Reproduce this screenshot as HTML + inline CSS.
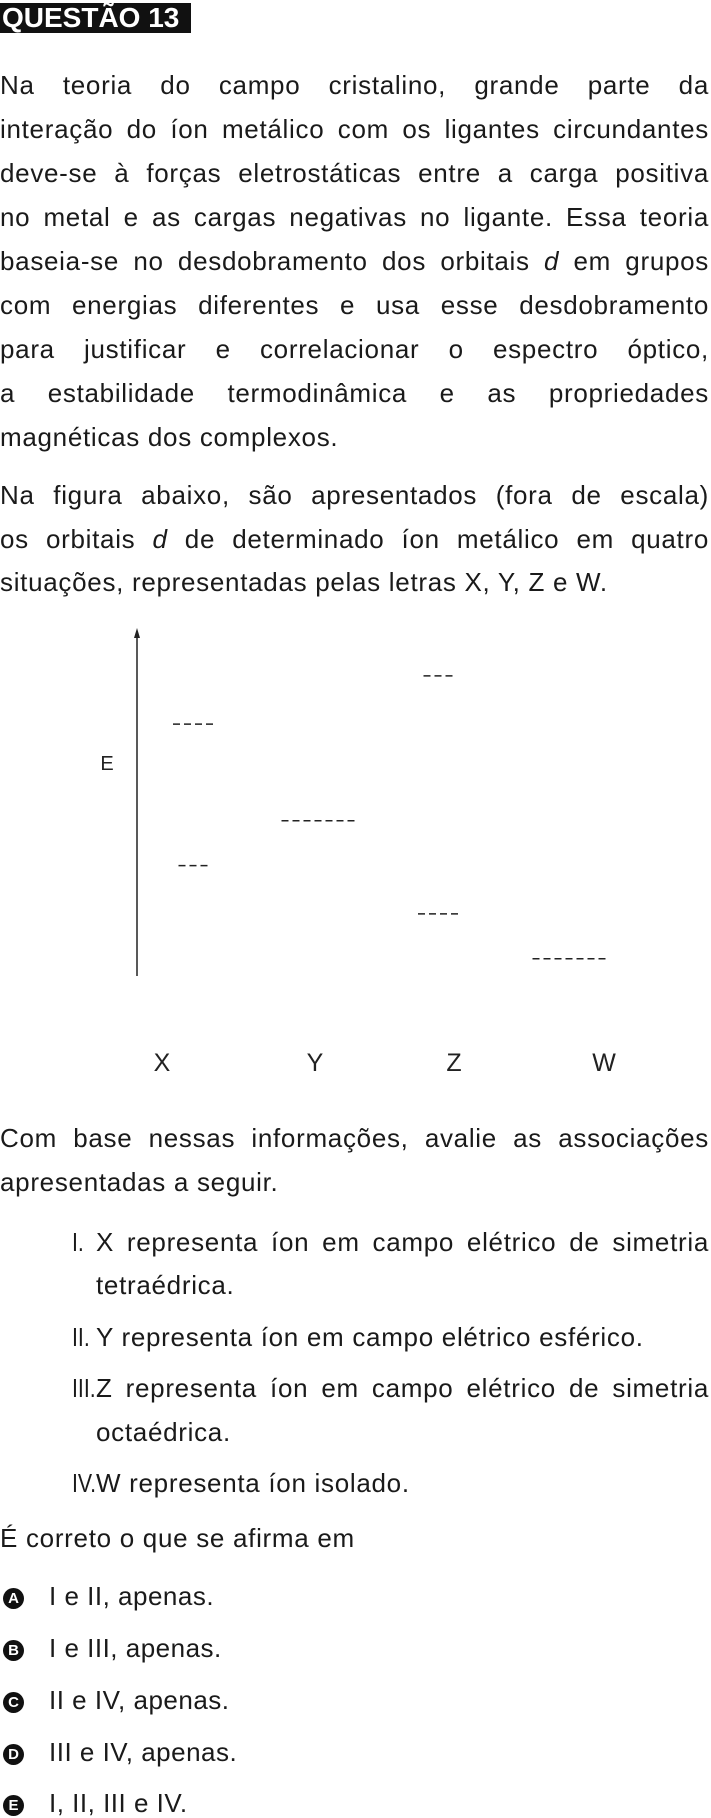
<!DOCTYPE html>
<html><head><meta charset="utf-8">
<style>
html,body{margin:0;padding:0;background:#fff;}
body{width:711px;height:1817px;position:relative;overflow:hidden;font-family:"Liberation Sans",Arial,sans-serif;color:#1a1a1a;}
.hdr{position:absolute;left:0;top:3px;width:191px;height:30px;background:#111;color:#fff;font-weight:bold;font-size:28px;line-height:30px;padding-left:2px;box-sizing:border-box;letter-spacing:0px;overflow:hidden;white-space:nowrap;}
.ln{position:absolute;left:0;width:709px;font-size:26px;letter-spacing:0.7px;line-height:30px;height:30px;white-space:nowrap;}
.j{text-align:justify;text-align-last:justify;white-space:normal;}
.num{position:absolute;left:72px;font-size:26px;line-height:30px;transform:scaleX(0.82);transform-origin:left center;}
.opt{position:absolute;left:3px;width:21px;height:21px;border-radius:50%;background:#111;color:#fff;font-weight:bold;font-size:15px;line-height:21px;text-align:center;}
.ot{position:absolute;left:49px;font-size:26px;letter-spacing:0.5px;line-height:30px;}
</style></head><body>
<div class="hdr">QUESTÃO 13</div>

<div class="ln j" style="top:70px">Na teoria do campo cristalino, grande parte da</div>
<div class="ln j" style="top:114px">interação do íon metálico com os ligantes circundantes</div>
<div class="ln j" style="top:158px">deve-se à forças eletrostáticas entre a carga positiva</div>
<div class="ln j" style="top:202px">no metal e as cargas negativas no ligante. Essa teoria</div>
<div class="ln j" style="top:246px">baseia-se no desdobramento dos orbitais <i>d</i> em grupos</div>
<div class="ln j" style="top:290px">com energias diferentes e usa esse desdobramento</div>
<div class="ln j" style="top:334px">para justificar e correlacionar o espectro óptico,</div>
<div class="ln j" style="top:378px">a estabilidade termodinâmica e as propriedades</div>
<div class="ln" style="top:422px">magnéticas dos complexos.</div>

<div class="ln j" style="top:480px">Na figura abaixo, são apresentados (fora de escala)</div>
<div class="ln j" style="top:524px">os orbitais <i>d</i> de determinado íon metálico em quatro</div>
<div class="ln" style="top:567px">situações, representadas pelas letras X, Y, Z e W.</div>

<svg id="fig" width="711" height="1817" style="position:absolute;left:0;top:0">
  <line x1="137" y1="976" x2="137" y2="636" stroke="#222" stroke-width="1.5"/>
  <polygon points="137,628 134,638 140,638" fill="#222"/>
  <text x="107" y="770" font-size="20" font-family="Liberation Sans, sans-serif" text-anchor="middle" fill="#222">E</text>
</svg>

<div class="ln j" style="top:1123px">Com base nessas informações, avalie as associações</div>
<div class="ln" style="top:1167px">apresentadas a seguir.</div>

<div class="num" style="top:1227px">I.</div>
<div class="ln j" style="top:1227px;left:96px;width:613px">X representa íon em campo elétrico de simetria</div>
<div class="ln" style="top:1270px;left:96px">tetraédrica.</div>
<div class="num" style="top:1322px">II.</div>
<div class="ln" style="top:1322px;left:96px">Y representa íon em campo elétrico esférico.</div>
<div class="num" style="top:1373px">III.</div>
<div class="ln j" style="top:1373px;left:96px;width:613px">Z representa íon em campo elétrico de simetria</div>
<div class="ln" style="top:1417px;left:96px">octaédrica.</div>
<div class="num" style="top:1468px">IV.</div>
<div class="ln" style="top:1468px;left:96px">W representa íon isolado.</div>

<div class="ln" style="top:1523px">É correto o que se afirma em</div>

<div class="opt" style="top:1588px">A</div>
<div class="ot" style="top:1581px">I e II, apenas.</div>
<div class="opt" style="top:1640px">B</div>
<div class="ot" style="top:1633px">I e III, apenas.</div>
<div class="opt" style="top:1692px">C</div>
<div class="ot" style="top:1685px">II e IV, apenas.</div>
<div class="opt" style="top:1744px">D</div>
<div class="ot" style="top:1737px">III e IV, apenas.</div>
<div class="opt" style="top:1795px">E</div>
<div class="ot" style="top:1788px">I, II, III e IV.</div>

<script>
const categories = ["X", "Y", "Z", "W"];
const levelCategory = ["X", "X", "Y", "Z", "Z", "W"];
const levelEnergy = [73, 32, 45, 87, 18, 5];
const levelDashes = [4, 3, 7, 3, 4, 7];

const svg = document.getElementById('fig');
const NS = 'http://www.w3.org/2000/svg';
function yScale(e){ return 976 - e * 3.45; }
function labelX(c){
  const i = categories.indexOf(c);
  return [162, 315, 454, 604][i];
}
function levelX(c){
  const i = categories.indexOf(c);
  return [195, 320, 440, 571][i];
}

categories.forEach(function(c){
  const t = document.createElementNS(NS, 'text');
  t.setAttribute('x', labelX(c));
  t.setAttribute('y', 1071);
  t.setAttribute('font-size', '25');
  t.setAttribute('font-family', 'Liberation Sans, sans-serif');
  t.setAttribute('text-anchor', 'middle');
  t.setAttribute('fill', '#222');
  t.textContent = c;
  
  
  svg.appendChild(t);
});

levelEnergy.forEach(function(e, i){
  const n = levelDashes[i];
  const w = n * 11;
  const cx = levelX(levelCategory[i]);
  const ln = document.createElementNS(NS, 'line');
  ln.setAttribute('x1', cx - w / 2);
  ln.setAttribute('x2', cx + w / 2 - 4);
  ln.setAttribute('y1', yScale(e));
  ln.setAttribute('y2', yScale(e));
  ln.setAttribute('stroke', '#222');
  ln.setAttribute('stroke-width', '1.5');
  ln.setAttribute('stroke-dasharray', '7 4');
  
  
  svg.appendChild(ln);
});
</script>
</body></html>
